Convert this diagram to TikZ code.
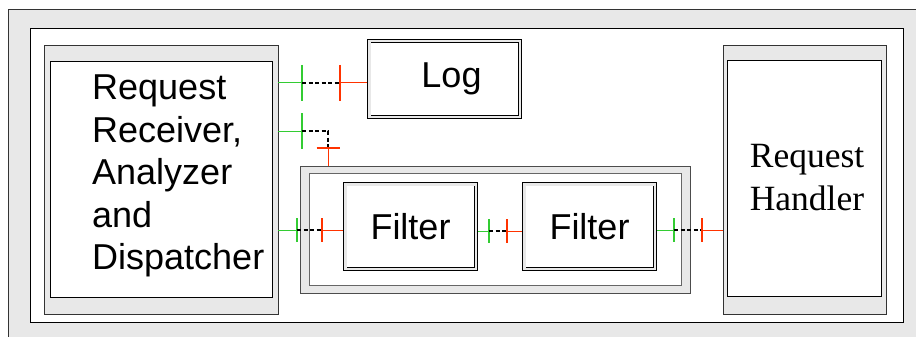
\documentclass[tikz,border=0pt]{standalone}
\usepackage{fontspec}
\setmainfont{Liberation Serif}
\newfontfamily\arialfont{Liberation Sans}
\usepackage{tikz}

\definecolor{panelgray}{HTML}{E8E8E8}
\definecolor{portgreen}{HTML}{33CC33}
\definecolor{portred}{HTML}{FF3300}

\tikzset{
	shell/.style={inner sep=0pt,outer sep=0pt,draw=black!80,fill=panelgray},
	body/.style={inner sep=0pt,outer sep=0pt,draw=black,fill=white},
	dblbox/.style={inner sep=0pt,outer sep=2.2pt,draw=black,line width=0.9pt,
		double=panelgray,double distance=2.6pt,fill=white},
	gport/.style={draw=portgreen,line width=1pt},
	gtick/.style={draw=portgreen,line width=1.4pt},
	rport/.style={draw=portred,line width=1pt},
	rtick/.style={draw=portred,line width=1.4pt},
	wire/.style={draw=black,line width=1.4pt,dash pattern=on 4pt off 2.5pt}
}

\begin{document}
\begin{tikzpicture}[x=1pt,y=-1pt]
	\useasboundingbox (0,0) rectangle (916,337);
	% frame
	\path[fill=panelgray,draw=black!80] (8,9) rectangle (925,345);
	\path[fill=white,draw=black] (30,28) rectangle (903,322);

	\begin{scope}[every node/.style={shell}]
		% outer shells
		\node[minimum width=234pt,minimum height=269pt] (recv) at (161,179.5) {};
		\node[minimum width=163pt,minimum height=269pt] (handler) at (804.5,179.5) {};
		\node[draw=black!70,minimum width=390pt,minimum height=127pt] (chain) at (495,229.5) {};
	\end{scope}

	\begin{scope}[every node/.style={body}]
		% inner bodies
		\node[minimum width=222pt,minimum height=236pt] (recvin) at (161,179) {};
		\node[minimum width=154pt,minimum height=236pt,align=center,
			font=\fontsize{35.5}{43}\selectfont] (handlerin) at (804,178) {\hspace*{6pt}Request\\\hspace*{6pt}Handler};
		\node[draw=black!60,minimum width=372pt,minimum height=112pt] (chainin) at (495,229) {};
	\end{scope}

	\node[font=\arialfont\fontsize{36}{42.5}\selectfont,align=left,anchor=west,inner sep=0pt]
		(recvtext) at (92,176) {Request\\Receiver,\\Analyzer\\and\\Dispatcher};

	\begin{scope}[every node/.style={dblbox,font=\arialfont\fontsize{36}{42}\selectfont}]
		\node[minimum width=150.6pt,minimum height=75.6pt] (log) at (444.5,79) {\hspace*{14pt}Log};
		\node[minimum width=130.6pt,minimum height=84.6pt] (filterA) at (410.5,226.5) {Filter};
		\node[minimum width=130.6pt,minimum height=84.6pt] (filterB) at (589.5,226.5) {Filter};
	\end{scope}

	% ports: green = provided, red = required
	\coordinate (g1) at (302,83);  \coordinate (r1) at (340,83);
	\coordinate (g2) at (302,131); \coordinate (r2) at (328,148);
	\coordinate (g3) at (297,230); \coordinate (r3) at (322,230);
	\coordinate (g4) at (489,231); \coordinate (r4) at (507,231);
	\coordinate (g5) at (674,230); \coordinate (r5) at (702,230);

	% receiver -> log
	\draw[gport] (recv.east |- g1) -- (g1);
	\draw[gtick] (g1) ++(0,-18) -- ++(0,36);
	\draw[wire] (g1) -- (r1);
	\draw[rtick] (r1) ++(0,-18) -- ++(0,36);
	\draw[rport] (r1) -- (log.west |- r1);

	% receiver -> filter chain
	\draw[gport] (recv.east |- g2) -- (g2);
	\draw[gtick] (g2) ++(0,-18) -- ++(0,36);
	\draw[wire] (g2) -| (r2);
	\draw[rtick] (r2) ++(-11.5,0) -- ++(23,0);
	\draw[rport] (r2) -- (r2 |- chain.north);

	% receiver -> first filter
	\draw[gport] (recv.east |- g3) -- (g3);
	\draw[gtick] (g3) ++(0,-12) -- ++(0,24);
	\draw[wire] (g3) -- (r3);
	\draw[rtick] (r3) ++(0,-12) -- ++(0,24);
	\draw[rport] (r3) -- (filterA.west |- r3);

	% first filter -> second filter
	\draw[gport] (filterA.east |- g4) -- (g4);
	\draw[gtick] (g4) ++(0,-12) -- ++(0,24);
	\draw[wire] (g4) -- (r4);
	\draw[rtick] (r4) ++(0,-12) -- ++(0,24);
	\draw[rport] (r4) -- (filterB.west |- r4);

	% second filter -> handler
	\draw[gport] (filterB.east |- g5) -- (g5);
	\draw[gtick] (g5) ++(0,-12) -- ++(0,24);
	\draw[wire] (g5) -- (r5);
	\draw[rtick] (r5) ++(0,-12) -- ++(0,24);
	\draw[rport] (r5) -- (handler.west |- r5);
\end{tikzpicture}
\end{document}
